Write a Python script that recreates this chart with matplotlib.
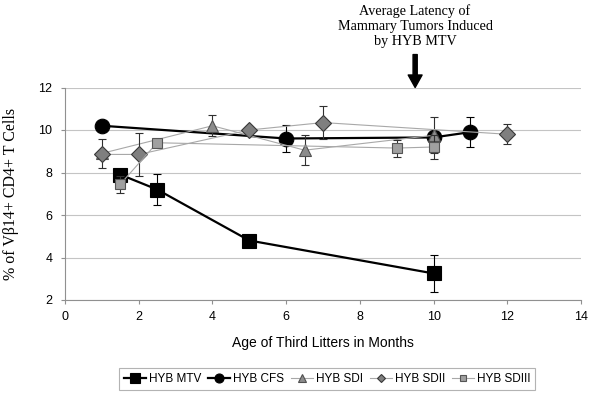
import matplotlib
matplotlib.use("Agg")
import matplotlib.pyplot as plt
from matplotlib.lines import Line2D

# ---- data ----
mtv_x = [1.5, 2.5, 5, 10]
mtv_y = [7.9, 7.2, 4.8, 3.25]
mtv_err = [0.0, 0.73, 0.0, 0.87]

cfs_x = [1, 6, 10, 11]
cfs_y = [10.2, 9.6, 9.65, 9.9]
cfs_err = [0.0, 0.65, 0.0, 0.7]

sdi_x = [1, 4, 6.5, 10]
sdi_y = [8.9, 10.2, 9.05, 9.75]
sdi_err = [0.7, 0.5, 0.72, 0.85]

sdii_x = [1, 2, 5, 7, 12]
sdii_y = [8.85, 8.85, 10.0, 10.35, 9.8]
sdii_err = [0.0, 1.0, 0.0, 0.78, 0.48]

sdiii_x = [1.5, 2.5, 9, 10]
sdiii_y = [7.45, 9.4, 9.15, 9.2]
sdiii_err = [0.4, 0.0, 0.4, 0.55]

series_names = ["HYB MTV", "HYB CFS", "HYB SDI", "HYB SDII", "HYB SDIII"]
x_ticks = [0, 2, 4, 6, 8, 10, 12, 14]
y_ticks = [2, 4, 6, 8, 10, 12]

SANS = ["Liberation Sans", "DejaVu Sans"]
SERIF = ["Liberation Serif", "DejaVu Serif"]

fig = plt.figure(figsize=(5.92, 3.96), dpi=100)
ax = fig.add_axes([65/592, 1-300/396, (581-65)/592, (300-87.5)/396])

styles = [
    dict(x=mtv_x, y=mtv_y, e=mtv_err, marker="s", ms=10, mfc="black", mec="black",
         lc="black", lw=1.6, ecol="black"),
    dict(x=cfs_x, y=cfs_y, e=cfs_err, marker="o", ms=10.5, mfc="black", mec="black",
         lc="black", lw=1.6, ecol="black"),
    dict(x=sdi_x, y=sdi_y, e=sdi_err, marker="^", ms=9, mfc="#8c8c8c", mec="#505050",
         lc="#a8a8a8", lw=0.8, ecol="#303030"),
    dict(x=sdii_x, y=sdii_y, e=sdii_err, marker="D", ms=8, mfc="#7f7f7f", mec="#383838",
         lc="#a8a8a8", lw=0.8, ecol="#303030"),
    dict(x=sdiii_x, y=sdiii_y, e=sdiii_err, marker="s", ms=7.5, mfc="#a0a0a0", mec="#555555",
         lc="#a8a8a8", lw=0.8, ecol="#303030"),
]

handles = []
leg_ms = [7.5, 6.5, 5.5, 4.5, 5]
for i, (st, name) in enumerate(zip(styles, series_names)):
    ax.errorbar(st["x"], st["y"], yerr=st["e"], fmt="none", ecolor=st["ecol"],
                elinewidth=0.8, capsize=3, capthick=0.8, zorder=2 + i * 2)
    ax.plot(st["x"], st["y"], color=st["lc"], lw=st["lw"], marker=st["marker"],
            ms=st["ms"], mfc=st["mfc"], mec=st["mec"], mew=0.8, zorder=3 + i * 2)
    handles.append(Line2D([0], [0], color=st["lc"], lw=st["lw"], marker=st["marker"],
                          ms=leg_ms[i], mfc=st["mfc"], mec=st["mec"], mew=0.8, label=name))

ax.set_xlim(0, 14)
ax.set_ylim(2, 12)
ax.set_xticks(x_ticks)
ax.set_yticks(y_ticks)
ax.yaxis.grid(True, color="#c4c4c4", lw=0.8)
ax.set_axisbelow(True)
for s in ["top", "right"]:
    ax.spines[s].set_visible(False)
for s in ["left", "bottom"]:
    ax.spines[s].set_color("#909090")
    ax.spines[s].set_linewidth(0.8)
ax.tick_params(axis="both", colors="#909090", labelcolor="black", length=3, width=0.8)
ax.tick_params(axis="x", pad=5)
ax.tick_params(axis="y", pad=6)
for lab in ax.get_xticklabels() + ax.get_yticklabels():
    lab.set_family(SANS)
    lab.set_fontsize(9)

ax.set_xlabel("Age of Third Litters in Months", family=SANS, fontsize=10, labelpad=9)
ax.set_ylabel("% of V\u03b214+ CD4+ T Cells", family=SERIF, fontsize=11.5)
ax.yaxis.set_label_coords(-0.09, 0.5)

leg = ax.legend(handles=handles, loc="center", bbox_to_anchor=(327/592, 1-379/396),
                bbox_transform=fig.transFigure, ncol=5, frameon=True, fancybox=False,
                prop={"family": SANS, "size": 8.5}, handlelength=1.85, handletextpad=0.25,
                columnspacing=0.6, borderpad=0.4)
leg.get_frame().set_edgecolor("#a0a0a0")
leg.get_frame().set_linewidth(0.8)

fig.text(415/592, 1-26.5/396, "Average Latency of\nMammary Tumors Induced\nby HYB MTV",
         ha="center", va="center", family=SERIF, fontsize=10.2, linespacing=1.2)
ax.annotate("", xy=(9.5, 12), xytext=(9.5, 13.55), annotation_clip=False,
            arrowprops=dict(facecolor="black", edgecolor="black", width=3,
                            headwidth=10, headlength=9, shrink=0))

fig.savefig("out.png", dpi=100)
